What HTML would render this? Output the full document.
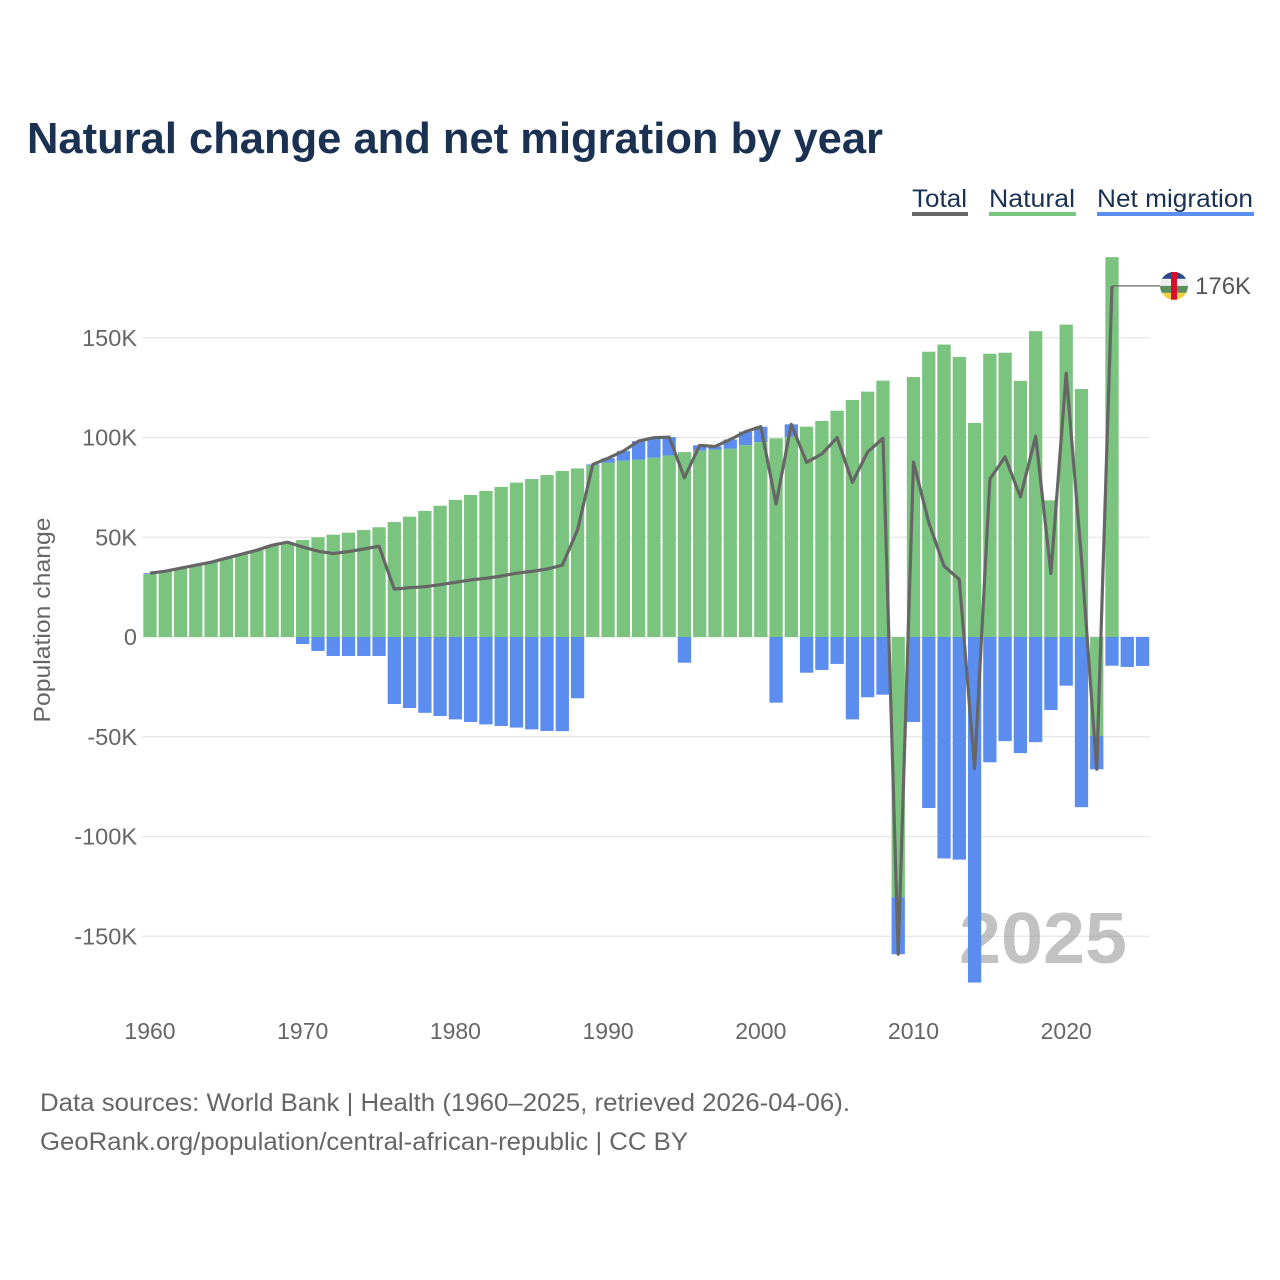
<!DOCTYPE html>
<html><head><meta charset="utf-8"><style>
html,body{margin:0;padding:0;background:#fff;}
svg{display:block;font-family:"Liberation Sans",sans-serif;}
</style></head><body>
<svg id="chart" width="1280" height="1280" viewBox="0 0 1280 1280">
<text x="27" y="153" font-size="44" font-weight="bold" fill="#1b3152" textLength="856" lengthAdjust="spacingAndGlyphs">Natural change and net migration by year</text>
<g>
<g><text x="912" y="207" font-size="25" fill="#1b3152" textLength="55" lengthAdjust="spacingAndGlyphs">Total</text><rect x="912" y="212" width="56" height="4" fill="#666"/></g>
<g><text x="989" y="207" font-size="25" fill="#1b3152" textLength="86" lengthAdjust="spacingAndGlyphs">Natural</text><rect x="989" y="212" width="87" height="4" fill="#7bc47f"/></g>
<g><text x="1097" y="207" font-size="25" fill="#1b3152" textLength="156" lengthAdjust="spacingAndGlyphs">Net migration</text><rect x="1097" y="212" width="157" height="4" fill="#5b8def"/></g>
</g>
<g id="grid"></g>
<g id="yticks"></g>
<g id="xticks"></g>
<text transform="translate(50,620) rotate(-90)" text-anchor="middle" font-size="23" fill="#666" textLength="205" lengthAdjust="spacingAndGlyphs">Population change</text>
<text x="1043" y="963" text-anchor="middle" font-size="72" font-weight="bold" fill="#999" fill-opacity="0.6" textLength="168" lengthAdjust="spacingAndGlyphs">2025</text>
<g id="bars"></g>
<g id="line"></g>
<g id="annot"></g>
<text x="40" y="1111" font-size="25" fill="#666" textLength="810" lengthAdjust="spacingAndGlyphs">Data sources: World Bank | Health (1960–2025, retrieved 2026-04-06).</text>
<text x="40" y="1150" font-size="25" fill="#666" textLength="648" lengthAdjust="spacingAndGlyphs">GeoRank.org/population/central-african-republic | CC BY</text>
</svg>
<script>
const years = [1960,1961,1962,1963,1964,1965,1966,1967,1968,1969,1970,1971,1972,1973,1974,1975,1976,1977,1978,1979,1980,1981,1982,1983,1984,1985,1986,1987,1988,1989,1990,1991,1992,1993,1994,1995,1996,1997,1998,1999,2000,2001,2002,2003,2004,2005,2006,2007,2008,2009,2010,2011,2012,2013,2014,2015,2016,2017,2018,2019,2020,2021,2022,2023,2024,2025];
const natural = [31.5,33,34.5,36,37.5,39.5,41.5,43.5,46,47.5,48.6,50,51.3,52.3,53.6,55,57.6,60.3,63.2,65.8,68.7,71.2,73.2,75.2,77.4,79.2,81.2,83.2,84.5,86,87.4,88.4,88.9,89.9,91,92.7,93.4,94,94.4,96.2,97.7,99.6,100.3,105.4,108.3,113.4,118.8,123,128.5,-130.5,130.3,143,146.6,140.4,107.3,142,142.5,128.4,153.3,68.5,156.6,124.3,-49.6,190.4,null,null];
const migration = [0.5,0,0,0,0,0,0,0,0,0,-3.5,-7,-9.5,-9.5,-9.5,-9.5,-33.6,-35.6,-38,-39.6,-41.3,-42.6,-43.8,-44.6,-45.4,-46.3,-47.1,-47.2,-30.7,0.5,2.2,4.8,9.3,10,9.2,-12.9,2.7,1.5,4.6,6.7,7.7,-32.9,6.3,-17.9,-16.5,-13.5,-41.3,-30.2,-28.9,-28.5,-42.6,-85.7,-111,-111.6,-173.2,-62.8,-52.2,-58.2,-52.7,-36.6,-24.4,-85.3,-16.7,-14.4,-15,-14.5];
const yTickValues = [-150,-100,-50,0,50,100,150];
const yTickLabels = ["-150K","-100K","-50K","0","50K","100K","150K"];
const xTickValues = [1960,1970,1980,1990,2000,2010,2020];
const endLabel = "176K";

const NS="http://www.w3.org/2000/svg";
const X = y => 150 + (y-1960)*15.27;
const Y = v => 637 - v*1.995;
function mk(tag, attrs, parent){const e=document.createElementNS(NS,tag);for(const k in attrs)e.setAttribute(k,attrs[k]);parent.appendChild(e);return e;}
const grid=document.getElementById('grid'), yt=document.getElementById('yticks'), xt=document.getElementById('xticks');
yTickValues.forEach((v,i)=>{
  const l=mk('line',{x1:142,x2:1150,y1:Y(v),y2:Y(v),stroke:'#e6e6e6','stroke-width':1.3},grid);
  
  
  const t=mk('text',{x:137,y:Y(v)+8,'text-anchor':'end','font-size':23.5,fill:'#666'},yt);
  t.textContent=yTickLabels[i];
  
  
});
xTickValues.forEach(v=>{
  const t=mk('text',{x:X(v),y:1039,'text-anchor':'middle','font-size':23,fill:'#666'},xt);
  t.textContent=String(v);
  
  
});
const bars=document.getElementById('bars');
const bw=13.3;
years.forEach((yr,i)=>{
  const n=natural[i], m=migration[i];
  const x=X(yr)-bw/2;
  let pos=0, neg=0;
  if(n!==null){
    let y0,y1;
    if(n>=0){y0=0;y1=n;pos=n;}else{y0=n;y1=0;neg=n;}
    const r=mk('rect',{x:x,y:Y(y1),width:bw,height:Math.abs(Y(y0)-Y(y1)),fill:'#7bc47f'},bars);
    
    
  }
  if(m!==null && m!==0){
    let y0,y1;
    if(m>=0){y0=pos;y1=pos+m;}else{y0=neg+m;y1=neg;}
    const r=mk('rect',{x:x,y:Y(y1),width:bw,height:Math.abs(Y(y0)-Y(y1)),fill:'#5b8def'},bars);
    
    
  }
});
const pts=[];
years.forEach((yr,i)=>{ if(natural[i]!==null) pts.push([X(yr),Y(natural[i]+migration[i])]); });
const ln=mk('polyline',{points:pts.map(p=>p[0].toFixed(1)+','+p[1].toFixed(1)).join(' '),fill:'none',stroke:'#666','stroke-width':3.2,'stroke-linejoin':'round'},document.getElementById('line'));


const last=pts[pts.length-1];
const an=document.getElementById('annot');
const c=mk('polyline',{points:`${last[0]},${last[1]} 1160,${last[1]}`,fill:'none',stroke:'#666','stroke-width':1.3},an);


const cy=last[1], cx=1174;
const defs=mk('defs',{},an);
const cp=mk('clipPath',{id:'flagclip'},defs);
mk('circle',{cx:cx,cy:cy,r:14},cp);
const fg=mk('g',{'clip-path':'url(#flagclip)'},an);


mk('rect',{x:cx-14,y:cy-14,width:28,height:7,fill:'#2a4a8c'},fg);
mk('rect',{x:cx-14,y:cy-7,width:28,height:7,fill:'#eee'},fg);
mk('rect',{x:cx-14,y:cy,width:28,height:7,fill:'#5a8f5a'},fg);
mk('rect',{x:cx-14,y:cy+7,width:28,height:7,fill:'#f0d040'},fg);
mk('rect',{x:cx-3,y:cy-14,width:6,height:28,fill:'#d6102a'},fg);
const lt=mk('text',{x:1195,y:cy+8,'font-size':24,fill:'#555'},an);
lt.textContent=endLabel;


</script>
</body></html>
